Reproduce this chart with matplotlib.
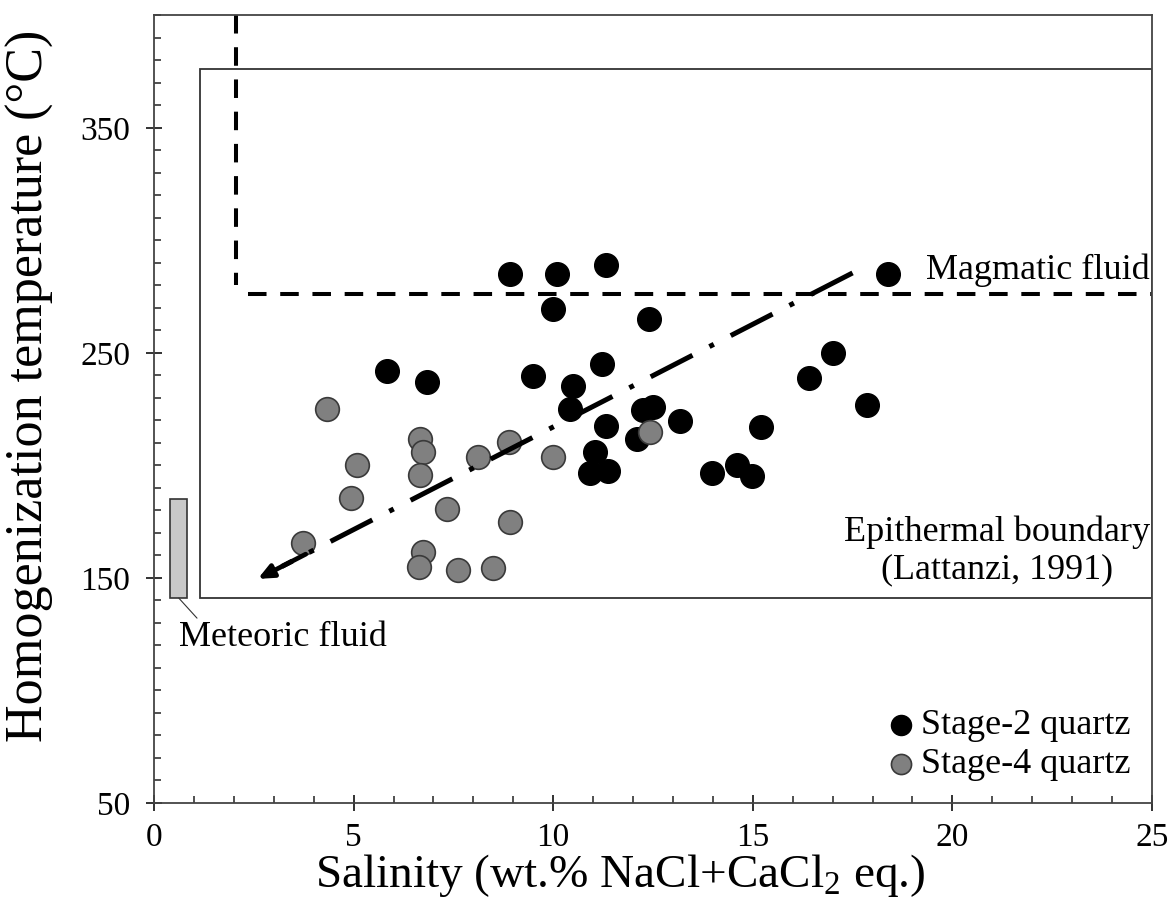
import numpy as np
import matplotlib.pyplot as plt
from matplotlib.patches import Rectangle
from matplotlib.ticker import MultipleLocator

plt.rcParams['font.family'] = ['Liberation Serif', 'DejaVu Serif']
plt.rcParams['mathtext.fontset'] = 'custom'
plt.rcParams['mathtext.rm'] = 'Liberation Serif'

# Stage-2 quartz (black)
s2_sal = [8.92, 10.10, 11.32, 9.99, 12.40, 18.39, 17.01, 16.41, 17.86, 15.21,
          13.98, 14.60, 14.98, 13.18, 12.25, 12.50, 12.10, 11.05, 10.92, 11.37,
          11.32, 10.42, 10.50, 11.22, 9.49, 5.84, 6.84]
s2_th = [285.1, 285.1, 289.1, 269.6, 265.2, 285.1, 250.1, 239.0, 226.6, 217.2,
         196.8, 200.0, 195.1, 219.9, 224.4, 225.7, 211.9, 205.7, 196.4, 197.3,
         217.3, 225.2, 235.4, 245.2, 239.9, 242.1, 237.2]

# Stage-4 quartz (grey)
s4_sal = [4.33, 5.09, 4.93, 3.73, 6.66, 6.74, 6.66, 7.34, 8.12, 8.89,
          8.92, 6.74, 6.64, 7.62, 8.49, 9.99, 12.42]
s4_th = [225.2, 200.0, 185.3, 165.4, 211.9, 205.7, 195.5, 180.4, 203.5, 210.2,
         174.7, 161.4, 154.7, 153.4, 154.3, 203.5, 214.6]

# reference fields
magmatic_x = [2.05, 2.05]
magmatic_y = [400, 280]
magmatic_h_x = [2.35, 25]
magmatic_t = 276
epi_x0, epi_y0, epi_y1 = 1.14, 141, 376
met_x0, met_x1, met_y0, met_y1 = 0.40, 0.83, 141, 185
trend_start = (17.5, 285.5)
trend_end = (2.6, 149.5)

fig = plt.figure(figsize=(11.72, 9.02), dpi=100)
ax = fig.add_axes([0.1314, 0.110, 0.8515, 0.873])

ax.add_patch(Rectangle((epi_x0, epi_y0), 25 - epi_x0, epi_y1 - epi_y0,
                       fill=False, ec='#333333', lw=1.3, zorder=1))
ax.add_patch(Rectangle((met_x0, met_y0), met_x1 - met_x0, met_y1 - met_y0,
                       fc='#c8c8c8', ec='#333333', lw=1.2, zorder=2))

ax.plot(magmatic_x, magmatic_y, color='black', lw=2.9, ls=(0, (4.6, 3.4)), zorder=2)
ax.plot(magmatic_h_x, [magmatic_t, magmatic_t], color='black', lw=2.9,
        ls=(0, (4.6, 3.4)), zorder=2)

# dash-dot trend arrow
ax.plot([trend_start[0], trend_end[0] + 0.6], [trend_start[1], trend_end[1] + 5.5],
        color='black', lw=3.6, ls=(0, (9.4, 3.8, 1, 3.8)), zorder=4)
ax.annotate('', xy=trend_end, xytext=(trend_end[0] + 1.2, trend_end[1] + 11),
            arrowprops=dict(arrowstyle='-|>,head_length=0.9,head_width=0.4',
                            color='black', lw=3.4, shrinkA=0, shrinkB=0), zorder=4)

ax.scatter(s2_sal, s2_th, s=290, c='black', edgecolors='black', lw=1.0,
           zorder=3, label='Stage-2 quartz')
ax.scatter(s4_sal, s4_th, s=290, c='#808080', edgecolors='#3a3a3a', lw=1.2,
           zorder=3, label='Stage-4 quartz')

ax.text(24.95, 286.5, 'Magmatic fluid', fontsize=26, ha='right', va='center')
ax.text(24.95, 162, 'Epithermal boundary\n(Lattanzi, 1991)', fontsize=26,
        ha='right', va='center', multialignment='center', linespacing=1.2)
ax.annotate('Meteoric fluid', xy=(0.62, 141), xytext=(0.62, 123.5), fontsize=26,
            ha='left', va='center',
            arrowprops=dict(arrowstyle='-', color='#333333', lw=0.8,
                            shrinkA=0, shrinkB=0,
                            relpos=(0.1, 1.0)))

ax.set_xlim(0, 25)
ax.set_ylim(50, 400)
ax.xaxis.set_major_locator(MultipleLocator(5))
ax.xaxis.set_minor_locator(MultipleLocator(1))
ax.set_yticks([50, 150, 250, 350])
ax.yaxis.set_minor_locator(MultipleLocator(10))
ax.tick_params(which='major', direction='inout', length=12, width=1.3,
               labelsize=24, colors='#222222', labelcolor='black')
ax.tick_params(axis='y', which='major', pad=11)
ax.tick_params(axis='x', which='major', pad=8)
ax.tick_params(which='minor', direction='in', length=5, width=1.1, colors='#222222')
for s in ax.spines.values():
    s.set_color('#444444')
    s.set_linewidth(1.3)

ax.set_xlabel('Salinity (wt.% NaCl+CaCl$_2$ eq.)', fontsize=34)
ax.set_ylabel('Homogenization temperature (\u00b0C)', fontsize=37.5)
ax.xaxis.set_label_coords(0.467, -0.063)
ax.yaxis.set_label_coords(-0.100, 0.530)

leg = ax.legend(loc='lower right', fontsize=26, frameon=False, handletextpad=-0.45,
                labelspacing=0.15, borderaxespad=0.2, markerscale=0.85)

fig.savefig('out.png', dpi=100)
